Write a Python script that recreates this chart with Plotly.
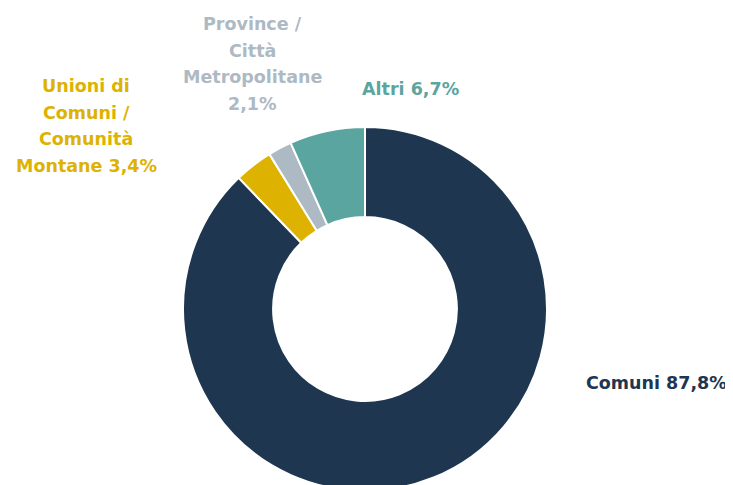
import plotly.graph_objects as go

categories = ["Comuni", "Unioni di Comuni / Comunità Montane", "Province / Città Metropolitane", "Altri"]
values = [87.8, 3.4, 2.1, 6.7]
label_lines = [
    ["Comuni"],
    ["Unioni di", "Comuni /", "Comunità", "Montane"],
    ["Province /", "Città", "Metropolitane"],
    ["Altri"],
]
colors = ["#1F3651", "#DDB200", "#ADB9C3", "#5BA5A0"]

OFF = 8  # page body margin
W, H = 725, 490
cx, cy, R = 365 - OFF, 309 - OFF, 182

fig = go.Figure()
fig.add_trace(go.Pie(
    labels=categories,
    values=values,
    sort=False,
    direction="clockwise",
    rotation=0,
    hole=0.505,
    textinfo="none",
    hoverinfo="label+percent",
    marker=dict(colors=colors, line=dict(color="white", width=2)),
    domain=dict(x=[(cx - R) / W, (cx + R) / W], y=[(H - cy - R) / H, (H - cy + R) / H]),
    showlegend=False,
))

def fmt(v):
    return ("%.1f" % v).replace(".", ",") + "%"

label_texts = []
for i, v in enumerate(values):
    lines = list(label_lines[i])
    if i in (0, 1, 3):
        lines[-1] = lines[-1] + " " + fmt(v)
    else:
        lines.append(fmt(v))
    label_texts.append(lines)

# label block: center x, center y of first line (page pixels), line spacing
label_pos = [(656, 383), (86, 86), (252, 24), (410, 89)]
LS = 26.7

for i, (x, y) in enumerate(label_pos):
    for j, line in enumerate(label_texts[i]):
        fig.add_annotation(
            x=(x - OFF) / W, y=1 - (y - OFF + j * LS) / H, xref="paper", yref="paper",
            text="<b>" + line + "</b>", showarrow=False,
            xanchor="center", yanchor="middle", align="center",
            font=dict(family="DejaVu Sans", size=17.5, color=colors[i]),
        )

fig.update_layout(
    width=W, height=H, autosize=False,
    margin=dict(l=0, r=0, t=0, b=0),
    paper_bgcolor="white", plot_bgcolor="white",
)

fig.write_html("out.html")
